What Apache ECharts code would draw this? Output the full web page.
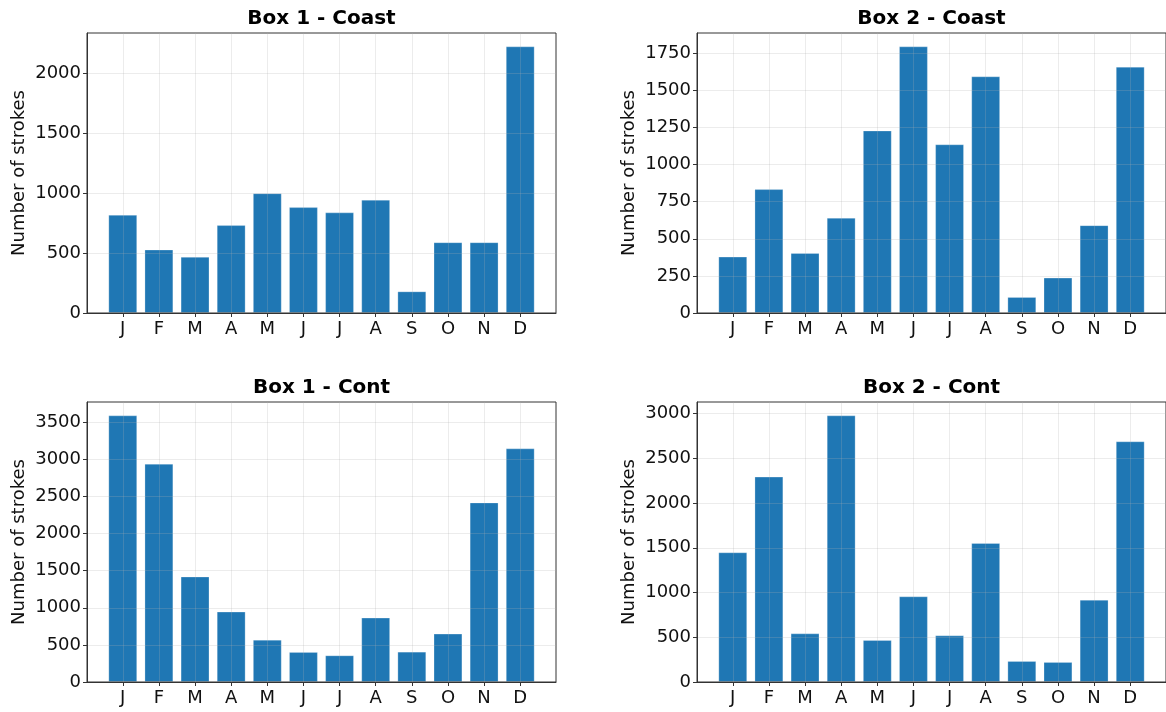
<!DOCTYPE html>
<html>
<head>
<meta charset="utf-8">
<script src="https://cdn.jsdelivr.net/npm/echarts@6/dist/echarts.min.js"></script>
<style>
  html, body { margin: 0; padding: 0; background: #fff; }
  #chart { width: 1166px; height: 712px; }
</style>
</head>
<body>
<div id="chart"></div>
<script>
// Monthly lightning stroke counts for two boxes, coastal vs continental
const months = ['J', 'F', 'M', 'A', 'M', 'J', 'J', 'A', 'S', 'O', 'N', 'D'];

const box1Coast = [820, 530, 469, 734, 1000, 884, 840, 946, 181, 591, 591, 2226];
const box2Coast = [380, 835, 405, 642, 1230, 1797, 1137, 1595, 108, 239, 592, 1660];
const box1Cont  = [3594, 2942, 1422, 949, 571, 405, 360, 868, 409, 652, 2420, 3149];
const box2Cont  = [1450, 2296, 544, 2981, 470, 958, 522, 1554, 235, 224, 920, 2691];

const ticksBox1Coast = [0, 500, 1000, 1500, 2000];
const ticksBox2Coast = [0, 250, 500, 750, 1000, 1250, 1500, 1750];
const ticksBox1Cont  = [0, 500, 1000, 1500, 2000, 2500, 3000, 3500];
const ticksBox2Cont  = [0, 500, 1000, 1500, 2000, 2500, 3000];

const panels = [
  { title: 'Box 1 - Coast', values: box1Coast, ticks: ticksBox1Coast, left: 87,  top: 33  },
  { title: 'Box 2 - Coast', values: box2Coast, ticks: ticksBox2Coast, left: 697, top: 33  },
  { title: 'Box 1 - Cont',  values: box1Cont,  ticks: ticksBox1Cont,  left: 87,  top: 402 },
  { title: 'Box 2 - Cont',  values: box2Cont,  ticks: ticksBox2Cont,  left: 697, top: 402 }
];

const PW = 469, PH = 280;
const FONT = 'DejaVu Sans';
const tickFont = 18;
const barFrac = 0.8;
const margin = 0.05;
const monthIdx = months.map((_, i) => i);

// x extent: bar edges plus 5% padding on each side
const xLo = -barFrac / 2, xHi = months.length - 1 + barFrac / 2;
const xPad = (xHi - xLo) * margin;

const gridLine = { show: true, lineStyle: { color: 'rgba(176,176,176,0.3)', width: 0.8 } };
const axisColor = '#333';

const option = {
  backgroundColor: '#fff',
  animation: false,
  textStyle: { fontFamily: FONT },
  grid: [], xAxis: [], yAxis: [], series: [], graphic: []
};

panels.forEach((p, k) => {
  const yMax = Math.max(...p.values) * 1.05;
  option.grid.push({
    left: p.left, top: p.top, width: PW, height: PH,
    show: true, borderColor: axisColor, borderWidth: 1, backgroundColor: 'transparent'
  });
  option.xAxis.push({
    type: 'value', gridIndex: k,
    min: xLo - xPad, max: xHi + xPad,
    axisLine: { show: true, onZero: false, lineStyle: { color: axisColor, width: 1 } },
    axisTick: { show: true, length: 4, lineStyle: { color: axisColor }, customValues: monthIdx },
    axisLabel: {
      customValues: monthIdx, margin: 7,
      color: '#111', fontSize: tickFont, fontFamily: FONT,
      formatter: v => months[Math.round(v)]
    },
    splitLine: gridLine
  });
  option.yAxis.push({
    type: 'value', gridIndex: k, min: 0, max: yMax,
    name: 'Number of strokes', nameLocation: 'middle', nameGap: 59,
    nameTextStyle: { fontSize: tickFont, color: '#111', fontFamily: FONT },
    axisLine: { show: true, onZero: false, lineStyle: { color: axisColor, width: 1 } },
    axisTick: { show: true, length: 4, lineStyle: { color: axisColor }, customValues: p.ticks },
    axisLabel: {
      customValues: p.ticks, margin: 6, color: '#111', fontSize: tickFont, fontFamily: FONT,
      formatter: v => String(v)
    },
    splitLine: gridLine
  });
  option.series.push({
    type: 'bar', xAxisIndex: k, yAxisIndex: k, z: -1,
    barWidth: (barFrac * 100) + '%',
    itemStyle: { color: '#1f77b4', borderColor: 'rgba(255,255,255,0.25)', borderWidth: 1 },
    data: p.values.map((v, i) => [i, v])
  });
  option.graphic.push({
    type: 'text', x: p.left + PW / 2, y: p.top - 14,
    style: {
      text: p.title, fontFamily: FONT, fontWeight: 'bold', fontSize: 20,
      fill: '#000', align: 'center', verticalAlign: 'middle'
    }
  });
});

const chart = echarts.init(document.getElementById('chart'), null, { renderer: 'canvas' });
chart.setOption(option);
</script>
</body>
</html>
